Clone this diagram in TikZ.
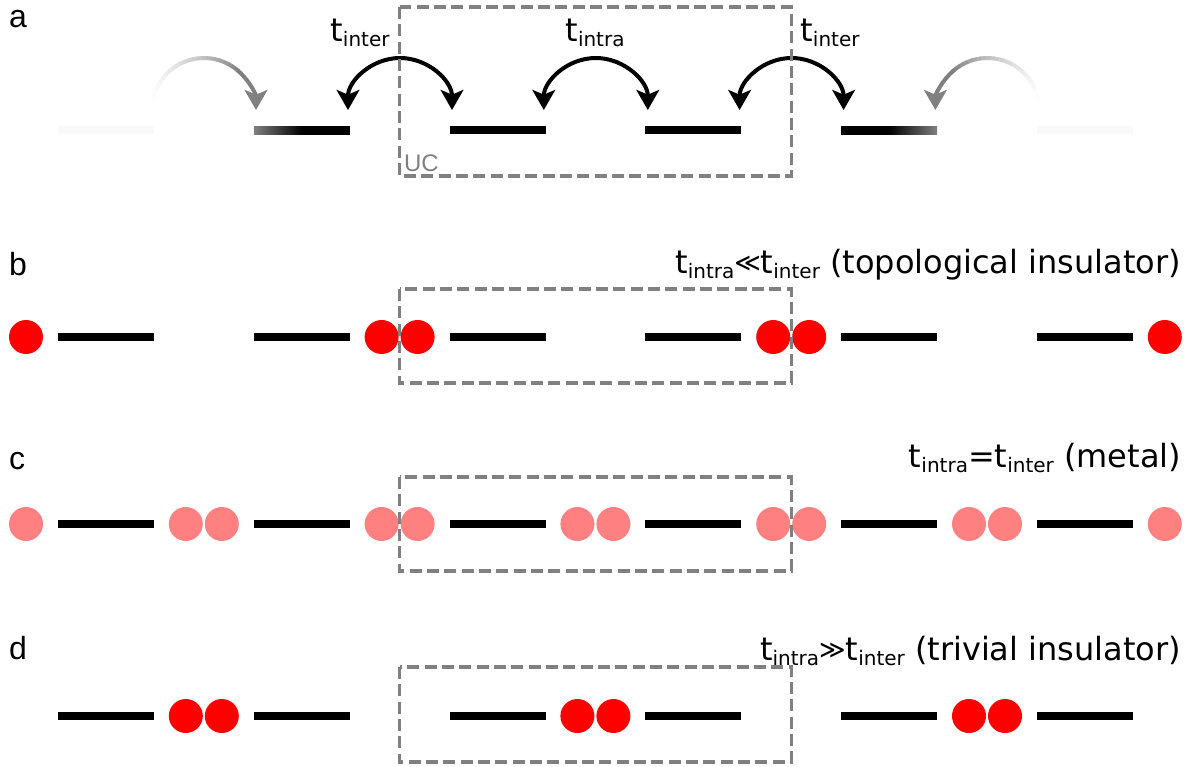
\documentclass[tikz,border=0pt]{standalone}
\usepackage{fontspec}
\setmainfont{DejaVu Sans}
\newfontfamily\labfont{Liberation Sans}
\usetikzlibrary{arrows.meta}
\definecolor{ucgray}{RGB}{128,128,128}
\definecolor{dotred}{RGB}{255,0,0}
\definecolor{dotpink}{RGB}{255,128,128}
\newcommand\subtx[1]{\raisebox{-3.75pt}{\fontsize{15pt}{17pt}\selectfont #1}}
\newcommand\rel[1]{\raisebox{1pt}{\fontsize{19pt}{20pt}\selectfont #1}}
\pgfdeclarehorizontalshading{barfadeL}{100bp}{color(0bp)=(black!50); color(25bp)=(black!50); color(50bp)=(black); color(100bp)=(black)}
\pgfdeclarehorizontalshading{barfadeR}{100bp}{color(0bp)=(black); color(50bp)=(black); color(75bp)=(black!50); color(100bp)=(black!50)}
\begin{document}
\begin{tikzpicture}[x=0.75pt,y=-0.75pt,
  every node/.style={inner sep=0pt, outer sep=0pt},
  bar/.style={rectangle, fill=black, minimum width=72pt, minimum height=6pt},
  faintbar/.style={bar, fill=black!2.5},
  dot/.style={circle, fill=dotred, minimum size=25.5pt},
  pdot/.style={circle, fill=dotpink, minimum size=25.5pt},
  ucbox/.style={draw=ucgray, line width=2.4pt, dash pattern=on 9pt off 4pt},
  hop/.style={line width=3pt, {Stealth[length=15pt,width=17pt,inset=3.5pt]}-{Stealth[length=15pt,width=17pt,inset=3.5pt]}},
  panel/.style={font=\labfont\fontsize{24pt}{28pt}\selectfont, anchor=base west},
  cond/.style={font=\fontsize{24pt}{28pt}\selectfont, anchor=base east},
  hoplab/.style={font=\fontsize{24pt}{28pt}\selectfont, anchor=base},
]
\useasboundingbox (0,0) rectangle (1192,767);

% ---------- panel a ----------
\node[panel] (la) at (9,28) {a};
\node[faintbar] (a0) at (106,130) {};
\node[bar, shading=barfadeL] (a1) at (301.8,130) {};
\node[bar] (a2) at (497.6,130) {};
\node[bar] (a3) at (693.4,130) {};
\node[bar, shading=barfadeR] (a4) at (889.2,130) {};
\node[faintbar] (a5) at (1085,130) {};

\coordinate (h1) at (348,110);
\coordinate (h2) at (543.8,110);
\coordinate (h3) at (739.6,110);
\draw[hop] (h1) arc[start angle=180, end angle=0, radius=39pt];
\draw[hop] (h2) arc[start angle=180, end angle=0, radius=39pt];
\draw[hop] (h3) arc[start angle=180, end angle=0, radius=39pt];

\coordinate (g1) at (204,110);
\coordinate (g2) at (987.4,110);
\foreach \a in {178,173,...,53} {
  \pgfmathsetmacro\p{50*((178-\a)/128)^1.7}
  \draw[line width=3pt, color=black!\p] (g1) ++(\a:39pt) arc[start angle=\a, end angle={\a-5.6}, radius=39pt];
}
\draw[line width=3pt, color=black!50, -{Stealth[length=15pt,width=17pt,inset=3.5pt]}] (g1) ++(50:39pt) arc[start angle=50, end angle=0, radius=39pt];
\foreach \a in {2,7,...,127} {
  \pgfmathsetmacro\p{50*((\a-2)/128)^1.7}
  \draw[line width=3pt, color=black!\p] (g2) ++(\a:39pt) arc[start angle=\a, end angle={\a+5.6}, radius=39pt];
}
\draw[line width=3pt, color=black!50, -{Stealth[length=15pt,width=17pt,inset=3.5pt]}] (g2) ++(130:39pt) arc[start angle=130, end angle=180, radius=39pt];

\node[hoplab] (ta1) at (360,42) {t\subtx{inter}};
\node[hoplab] (ta2) at (595,42) {t\subtx{intra}};
\node[hoplab] (ta3) at (830,42) {t\subtx{inter}};

\draw[ucbox] (399.6,7) rectangle (791.2,176);
\node[anchor=base west, text=ucgray, font=\labfont\fontsize{18pt}{20pt}\selectfont] (uc) at (404,171) {UC};

% ---------- panel b ----------
\node[panel] (lb) at (9,275) {b};
\foreach \i in {0,...,5} { \node[bar] (b\i) at ({106+195.8*\i},337) {}; }
\node[dot] (bd0) at (26,337) {};
\node[dot] (bd2l) at (381.6,337) {};
\node[dot] (bd2r) at (417.6,337) {};
\node[dot] (bd4l) at (773.2,337) {};
\node[dot] (bd4r) at (809.2,337) {};
\node[dot] (bd6) at (1164.8,337) {};
\draw[ucbox] (399.6,289) rectangle (791.2,383);
\node[cond] (cb) at (1181,273) {t\subtx{intra}\rel{≪}t\subtx{inter} (topological insulator)};

% ---------- panel c ----------
\node[panel] (lc) at (9,469) {c};
\foreach \i in {0,...,5} { \node[bar] (c\i) at ({106+195.8*\i},524) {}; }
\node[pdot] (cd0) at (26,524) {};
\foreach \k in {1,...,5} {
  \node[pdot] (cd\k l) at ({8+195.8*\k-18},524) {};
  \node[pdot] (cd\k r) at ({8+195.8*\k+18},524) {};
}
\node[pdot] (cd6) at (1164.8,524) {};
\draw[ucbox] (399.6,477) rectangle (791.2,571);
\node[cond] (cc) at (1181,467) {t\subtx{intra}=t\subtx{inter} (metal)};

% ---------- panel d ----------
\node[panel] (ld) at (9,659) {d};
\foreach \i in {0,...,5} { \node[bar] (d\i) at ({106+195.8*\i},716) {}; }
\foreach \k in {1,3,5} {
  \node[dot] (dd\k l) at ({8+195.8*\k-18},716) {};
  \node[dot] (dd\k r) at ({8+195.8*\k+18},716) {};
}
\draw[ucbox] (399.6,667) rectangle (791.2,762);
\node[cond] (cd) at (1181,660) {t\subtx{intra}\rel{≫}t\subtx{inter} (trivial insulator)};
\end{tikzpicture}
\end{document}
